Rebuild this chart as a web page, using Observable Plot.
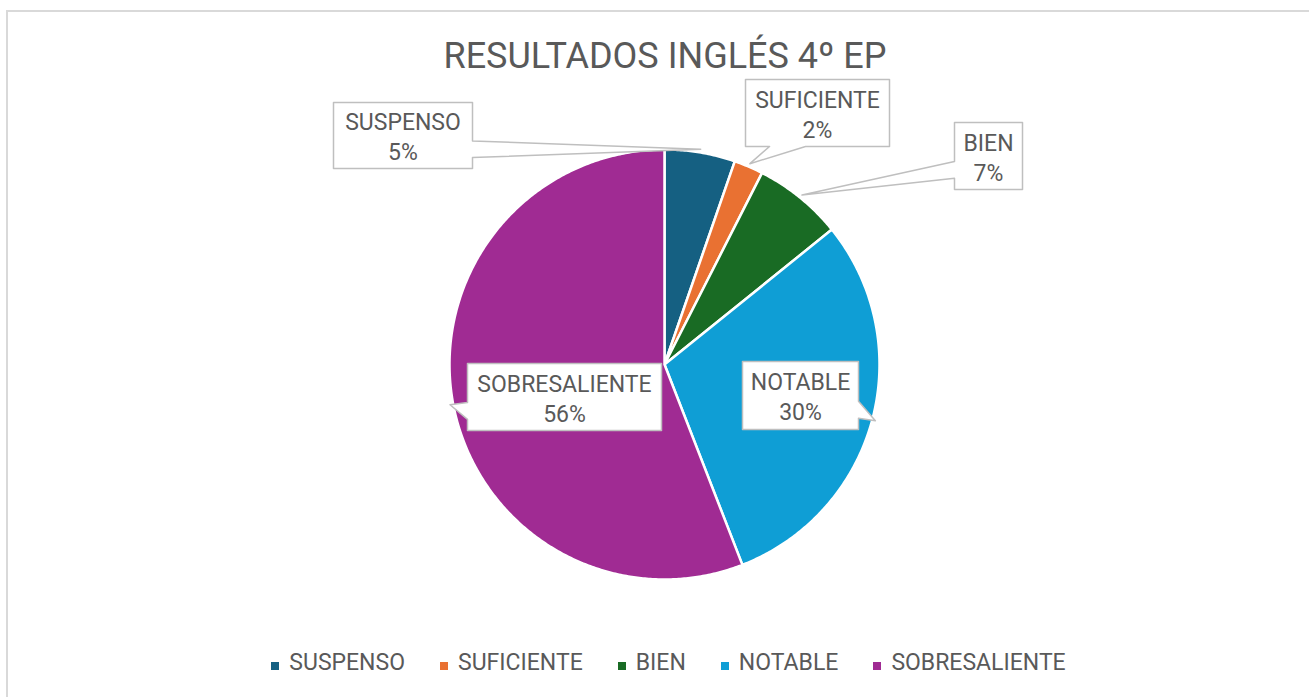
<!DOCTYPE html>
<html><head><meta charset="utf-8">
<script src="https://cdn.jsdelivr.net/npm/d3@7"></script>
<script src="https://cdn.jsdelivr.net/npm/@observablehq/plot@0.6"></script>
<style>
body{margin:0;background:#fff;font-family:Roboto,"Noto Sans",sans-serif;}
#wrap{position:relative;width:1309px;height:697px;overflow:hidden;}
#frame{position:absolute;left:6px;top:10px;width:1400px;height:800px;border-left:2px solid #d9d9d9;border-top:2px solid #d9d9d9;box-sizing:border-box;}
#chart{position:absolute;left:0;top:0;}
#legend{position:absolute;left:0;width:1337px;top:649px;display:flex;justify-content:center;gap:35px;font-size:23px;color:#595959;line-height:28px;}
#legend .item{display:flex;align-items:center;}
#legend .sw{width:8px;height:8px;margin-right:10px;transform:translateY(3px);}
</style></head>
<body>
<div id="wrap"><div id="frame"></div><div id="chart"></div><div id="legend"></div></div>
<script>
const title = "RESULTADOS INGLÉS 4º EP";
const categories = ["SUSPENSO", "SUFICIENTE", "BIEN", "NOTABLE", "SOBRESALIENTE"];
const values = [5.3, 2.2, 6.7, 29.9, 55.9];
const colors = ["#156082", "#E97132", "#196B24", "#0F9ED5", "#A02B93"];

// layout (pixels)
const W = 1309, H = 697, CX = 664, CY = 364, R = 215;
const callouts = [
  {cx: 402.5, cy: 135, w: 139, h: 66, side: "right"},
  {cx: 817, cy: 112.5, w: 144, h: 67, side: "bottom"},
  {cx: 988, cy: 155.5, w: 68, h: 67, side: "left"},
  {cx: 800, cy: 395, w: 116, h: 68, side: "right"},
  {cx: 564, cy: 396.5, w: 194, h: 67, side: "left"}
];

const total = d3.sum(values);
const ux = px => (px - CX) / R, uy = py => (CY - py) / R;
const polar = (a, r) => ({x: r * Math.sin(a), y: r * Math.cos(a)});

// slices
const slicePts = [];
const mids = [];
let acc = 0;
categories.forEach((cat, i) => {
  const a0 = acc / total * 2 * Math.PI;
  acc += values[i];
  const a1 = acc / total * 2 * Math.PI;
  mids.push((a0 + a1) / 2);
  slicePts.push({cat, x: 0, y: 0});
  const n = Math.max(4, Math.ceil((a1 - a0) / (Math.PI / 360)));
  for (let k = 0; k <= n; k++) {
    const p = polar(a0 + (a1 - a0) * k / n, 1);
    slicePts.push({cat, ...p});
  }
  slicePts.push({cat, x: 0, y: 0});
});

// callouts
const calloutPts = [];
const labels = [];
categories.forEach((cat, i) => {
  const c = callouts[i];
  const x0 = c.cx - c.w / 2, x1 = c.cx + c.w / 2, y0 = c.cy - c.h / 2, y1 = c.cy + c.h / 2;
  const tip = polar(mids[i], 1.015);
  const tp = [CX + tip.x * R, CY - tip.y * R];
  let pts;
  if (c.side === "right") {
    pts = [[x0, y0], [x1, y0], [x1, y0 + c.h * 0.583], tp, [x1, y0 + c.h * 0.833], [x1, y1], [x0, y1], [x0, y0]];
  } else if (c.side === "left") {
    pts = [[x0, y0], [x1, y0], [x1, y1], [x0, y1], [x0, y0 + c.h * 0.833], tp, [x0, y0 + c.h * 0.583], [x0, y0]];
  } else {
    pts = [[x0, y0], [x1, y0], [x1, y1], [x0 + c.w * 0.417, y1], tp, [x0 + c.w * 0.167, y1], [x0, y1], [x0, y0]];
  }
  pts.forEach(([px, py]) => calloutPts.push({cat, x: ux(px), y: uy(py)}));
  labels.push({cat, x: ux(c.cx), y: uy(c.cy), text: cat + "\n" + Math.round(values[i] / total * 100) + "%"});
});

const chart = Plot.plot({
  width: W, height: H, margin: 0,
  style: {background: "transparent", fontFamily: "Roboto, 'Noto Sans', sans-serif"},
  x: {domain: [-1, 1], range: [CX - R, CX + R], axis: null},
  y: {domain: [-1, 1], range: [CY + R, CY - R], axis: null},
  color: {domain: categories, range: colors},
  marks: [
    Plot.line(slicePts, {x: "x", y: "y", z: "cat", fill: "cat", stroke: "white", strokeWidth: 2.5, strokeLinejoin: "round", curve: "linear"}),
    Plot.line(calloutPts, {x: "x", y: "y", z: "cat", fill: "white", stroke: "#bfbfbf", strokeWidth: 1.5, curve: "linear"}),
    Plot.text(labels, {x: "x", y: "y", text: "text", fontSize: 23, fill: "#595959", lineHeight: 1.3, textAnchor: "middle"}),
    Plot.text([title], {frameAnchor: "top", dx: 10, dy: 56, fontSize: 36, fill: "#595959", lineAnchor: "middle"})
  ]
});
document.getElementById("chart").appendChild(chart);

const legend = document.getElementById("legend");
categories.forEach((cat, i) => {
  const it = document.createElement("div");
  it.className = "item";
  const sw = document.createElement("span");
  sw.className = "sw";
  sw.style.background = colors[i];
  const tx = document.createElement("span");
  tx.textContent = cat;
  it.appendChild(sw); it.appendChild(tx);
  legend.appendChild(it);
});
</script>
</body></html>
